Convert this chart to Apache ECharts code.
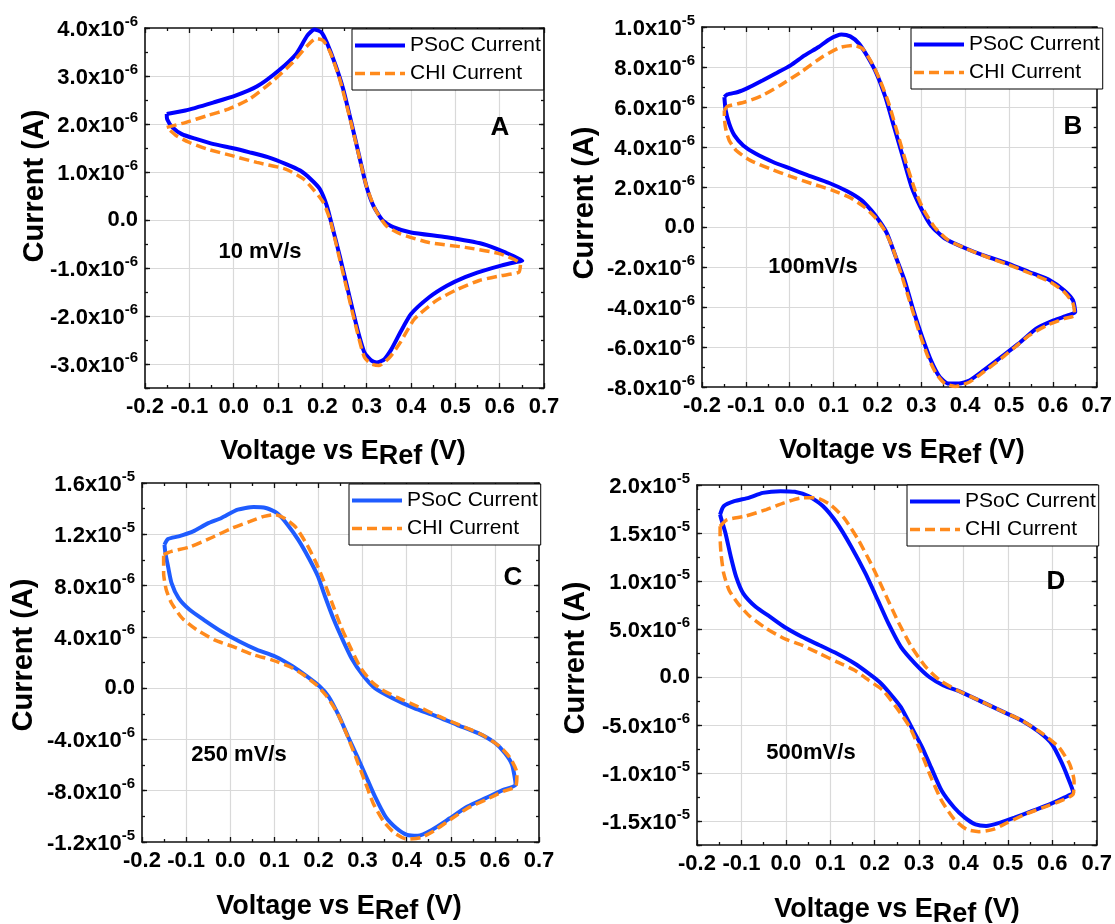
<!DOCTYPE html>
<html><head><meta charset="utf-8">
<script src="https://cdn.jsdelivr.net/npm/echarts@6/dist/echarts.min.js"></script>
<style>html,body{margin:0;padding:0;background:#fff}#c{width:1115px;height:924px}</style>
</head><body><div id="c"></div>
<script>
// ---- DATA (voltage in V, current in microamps: 1 = 1x10^-6 A) ----
const panelLetters = ['A', 'B', 'C', 'D'];
const scanRates = ['10 mV/s', '100mV/s', '250 mV/s', '500mV/s'];
const seriesNames = ['PSoC Current', 'CHI Current'];
const xRange = [-0.2, 0.7];
const yRangesA = [-3.5, 4, 1, 0.5];      // min, max, labelled step, minor step
const yRangesB = [-8, 10, 2, 1];
const yRangesC = [-12, 16, 4, 2];
const yRangesD = [-17.5, 20, 5, 2.5];

const psocA = [[-0.151,2.21],[-0.109,2.28],[-0.045,2.45],[0.004,2.59],[0.052,2.78],[0.101,3.11],[0.141,3.46],[0.166,3.84],[0.182,3.97],[0.198,3.91],[0.210,3.70],[0.230,3.22],[0.247,2.73],[0.267,1.97],[0.283,1.34],[0.299,0.72],[0.315,0.30],[0.336,-0.01],[0.360,-0.15],[0.400,-0.26],[0.481,-0.36],[0.562,-0.50],[0.611,-0.67],[0.651,-0.85],[0.635,-0.88],[0.603,-0.95],[0.562,-1.06],[0.522,-1.19],[0.481,-1.37],[0.441,-1.61],[0.400,-1.96],[0.376,-2.34],[0.356,-2.69],[0.340,-2.90],[0.323,-2.97],[0.311,-2.93],[0.295,-2.76],[0.279,-2.27],[0.259,-1.51],[0.239,-0.74],[0.222,-0.12],[0.210,0.30],[0.194,0.65],[0.174,0.85],[0.150,1.03],[0.117,1.17],[0.077,1.31],[0.036,1.41],[-0.004,1.50],[-0.045,1.58],[-0.085,1.69],[-0.117,1.79],[-0.138,1.93],[-0.150,2.10],[-0.151,2.21]];
const chiA = [[-0.151,1.93],[-0.109,2.03],[-0.061,2.17],[-0.012,2.31],[0.036,2.52],[0.085,2.87],[0.133,3.28],[0.166,3.63],[0.186,3.78],[0.202,3.74],[0.218,3.49],[0.239,2.94],[0.259,2.24],[0.279,1.48],[0.299,0.72],[0.319,0.23],[0.344,-0.12],[0.376,-0.29],[0.441,-0.47],[0.522,-0.57],[0.603,-0.71],[0.647,-0.92],[0.643,-1.09],[0.603,-1.16],[0.554,-1.26],[0.506,-1.44],[0.457,-1.68],[0.408,-2.06],[0.376,-2.55],[0.352,-2.86],[0.328,-3.03],[0.311,-3.00],[0.295,-2.86],[0.279,-2.34],[0.259,-1.58],[0.239,-0.81],[0.218,-0.01],[0.202,0.37],[0.182,0.61],[0.158,0.85],[0.117,1.06],[0.052,1.20],[-0.004,1.34],[-0.061,1.48],[-0.101,1.62],[-0.130,1.76],[-0.151,1.93]];

const psocB = [[-0.149,6.50],[-0.142,6.63],[-0.118,6.75],[-0.094,6.97],[-0.062,7.33],[-0.030,7.70],[0.002,8.08],[0.034,8.58],[0.066,9.00],[0.090,9.38],[0.118,9.62],[0.138,9.53],[0.158,9.17],[0.178,8.50],[0.198,7.67],[0.218,6.50],[0.238,5.00],[0.258,3.50],[0.278,2.00],[0.298,1.00],[0.322,0.08],[0.354,-0.58],[0.394,-1.00],[0.442,-1.42],[0.498,-1.83],[0.546,-2.25],[0.594,-2.67],[0.626,-3.17],[0.646,-3.67],[0.651,-4.25],[0.634,-4.42],[0.602,-4.67],[0.562,-5.08],[0.522,-5.83],[0.482,-6.50],[0.442,-7.17],[0.410,-7.67],[0.386,-7.83],[0.362,-7.83],[0.342,-7.50],[0.322,-6.67],[0.302,-5.50],[0.282,-4.17],[0.262,-2.67],[0.242,-1.50],[0.222,-0.33],[0.206,0.25],[0.186,0.83],[0.162,1.37],[0.130,1.80],[0.090,2.20],[0.042,2.58],[0.002,2.92],[-0.038,3.25],[-0.078,3.67],[-0.106,4.08],[-0.126,4.58],[-0.138,5.17],[-0.146,5.83],[-0.149,6.50]];
const chiB = [[-0.149,5.83],[-0.142,6.03],[-0.102,6.25],[-0.062,6.58],[-0.022,7.08],[0.026,7.75],[0.074,8.50],[0.114,8.97],[0.146,9.08],[0.166,8.92],[0.186,8.25],[0.206,7.33],[0.226,6.17],[0.246,4.67],[0.266,3.17],[0.286,1.83],[0.306,0.83],[0.330,0.00],[0.362,-0.67],[0.402,-1.08],[0.450,-1.50],[0.498,-1.88],[0.546,-2.30],[0.594,-2.75],[0.626,-3.25],[0.646,-3.83],[0.650,-4.42],[0.626,-4.58],[0.586,-4.92],[0.546,-5.42],[0.514,-6.00],[0.482,-6.58],[0.442,-7.25],[0.410,-7.75],[0.378,-7.97],[0.354,-7.83],[0.334,-7.33],[0.314,-6.42],[0.294,-5.17],[0.274,-3.75],[0.254,-2.33],[0.234,-1.00],[0.214,-0.08],[0.194,0.50],[0.170,1.00],[0.138,1.47],[0.098,1.83],[0.050,2.17],[0.002,2.53],[-0.046,2.92],[-0.090,3.33],[-0.122,3.83],[-0.138,4.33],[-0.146,4.92],[-0.149,5.50],[-0.149,5.83]];

const psocC = [[-0.149,11.19],[-0.141,11.63],[-0.117,11.84],[-0.084,12.23],[-0.052,12.83],[-0.020,13.27],[0.017,13.92],[0.053,14.13],[0.081,14.05],[0.106,13.66],[0.130,12.75],[0.154,11.58],[0.178,10.15],[0.199,8.71],[0.215,7.15],[0.235,5.33],[0.255,3.77],[0.275,2.34],[0.300,1.04],[0.328,0.00],[0.368,-0.78],[0.417,-1.56],[0.465,-2.16],[0.514,-2.86],[0.562,-3.51],[0.599,-4.24],[0.623,-5.07],[0.639,-5.98],[0.647,-7.54],[0.619,-7.93],[0.579,-8.58],[0.538,-9.24],[0.498,-10.15],[0.457,-11.06],[0.425,-11.52],[0.401,-11.45],[0.377,-10.93],[0.352,-10.02],[0.328,-8.45],[0.308,-6.89],[0.288,-5.33],[0.267,-3.77],[0.247,-2.21],[0.223,-0.65],[0.203,0.13],[0.174,0.91],[0.142,1.69],[0.102,2.47],[0.061,2.99],[0.021,3.64],[-0.020,4.42],[-0.060,5.33],[-0.092,6.11],[-0.117,7.02],[-0.133,8.19],[-0.141,9.50],[-0.147,10.54],[-0.149,11.19]];
const chiC = [[-0.151,10.41],[-0.133,10.67],[-0.092,11.00],[-0.044,11.71],[0.005,12.49],[0.045,13.00],[0.077,13.40],[0.102,13.53],[0.126,13.19],[0.150,12.49],[0.174,11.19],[0.195,9.76],[0.211,8.45],[0.231,6.63],[0.251,4.81],[0.275,2.99],[0.296,1.56],[0.320,0.52],[0.344,-0.13],[0.377,-0.70],[0.425,-1.43],[0.474,-2.21],[0.522,-2.91],[0.571,-3.64],[0.611,-4.55],[0.635,-5.46],[0.650,-6.63],[0.647,-7.67],[0.619,-8.06],[0.579,-8.71],[0.538,-9.37],[0.498,-10.28],[0.465,-11.06],[0.433,-11.65],[0.401,-11.78],[0.373,-11.32],[0.348,-10.41],[0.324,-8.97],[0.304,-7.15],[0.284,-5.33],[0.263,-3.51],[0.243,-1.95],[0.219,-0.65],[0.195,0.26],[0.166,1.04],[0.134,1.69],[0.094,2.21],[0.053,2.60],[0.005,3.25],[-0.036,3.77],[-0.076,4.55],[-0.109,5.46],[-0.133,6.63],[-0.145,7.67],[-0.151,8.97],[-0.151,10.02],[-0.151,10.41]];

const psocD = [[-0.148,16.92],[-0.140,17.79],[-0.116,18.31],[-0.084,18.66],[-0.052,19.18],[-0.012,19.36],[0.020,19.29],[0.052,18.83],[0.084,17.79],[0.115,16.04],[0.147,13.60],[0.179,10.81],[0.207,8.02],[0.231,5.58],[0.259,3.14],[0.291,1.40],[0.323,0.00],[0.355,-0.87],[0.395,-1.57],[0.443,-2.62],[0.491,-3.66],[0.531,-4.53],[0.571,-5.76],[0.599,-6.98],[0.619,-8.72],[0.635,-10.46],[0.647,-12.03],[0.627,-12.56],[0.595,-13.25],[0.555,-13.95],[0.515,-14.65],[0.483,-15.17],[0.451,-15.52],[0.427,-15.35],[0.403,-14.65],[0.379,-13.60],[0.351,-11.86],[0.327,-9.42],[0.307,-7.32],[0.283,-5.23],[0.259,-3.14],[0.235,-1.74],[0.211,-0.52],[0.187,0.35],[0.155,1.40],[0.115,2.44],[0.076,3.31],[0.036,4.19],[-0.004,5.23],[-0.036,6.28],[-0.068,7.32],[-0.096,8.72],[-0.112,10.46],[-0.124,12.56],[-0.136,15.00],[-0.146,16.57],[-0.148,16.92]];
const chiD = [[-0.148,15.70],[-0.132,16.39],[-0.092,16.74],[-0.044,17.44],[-0.004,18.14],[0.036,18.66],[0.068,18.66],[0.100,17.96],[0.131,16.57],[0.163,14.30],[0.195,11.51],[0.223,8.72],[0.251,5.93],[0.283,3.14],[0.315,1.05],[0.347,-0.35],[0.387,-1.40],[0.435,-2.44],[0.483,-3.49],[0.531,-4.53],[0.579,-5.93],[0.615,-7.32],[0.639,-9.07],[0.649,-10.81],[0.647,-12.21],[0.619,-12.91],[0.579,-13.60],[0.539,-14.30],[0.499,-15.17],[0.467,-15.87],[0.435,-16.11],[0.407,-15.87],[0.379,-14.82],[0.351,-12.91],[0.327,-10.46],[0.303,-7.67],[0.279,-5.23],[0.251,-3.31],[0.219,-1.40],[0.187,-0.35],[0.155,0.70],[0.115,1.57],[0.076,2.44],[0.036,3.31],[-0.004,4.01],[-0.044,5.06],[-0.080,6.28],[-0.108,7.67],[-0.128,9.07],[-0.140,10.81],[-0.146,12.91],[-0.148,14.65],[-0.148,15.70]];

// ---- LAYOUT / STYLE ----
const FONT = "'Liberation Sans', Arial, Helvetica, sans-serif";
const ORANGE = '#ff8a1c';
const panels = [
  { psoc: psocA, chi: chiA, yr: yRangesA, blue: '#0000ff',
    grid: {left: 145, top: 28, width: 399, height: 360}, legend: {left: 352, top: 29},
    letter: [500, 128], rate: [260, 252], ytitle: [35, 186], xtitle: [343, 452] },
  { psoc: psocB, chi: chiB, yr: yRangesB, blue: '#0000ff',
    grid: {left: 702, top: 27, width: 402, height: 360}, legend: {left: 911, top: 28},
    letter: [1073, 127], rate: [813, 267], ytitle: [585, 203], xtitle: [902, 451] },
  { psoc: psocC, chi: chiC, yr: yRangesC, blue: '#1f5cff',
    grid: {left: 142, top: 483, width: 397, height: 359}, legend: {left: 349, top: 484},
    letter: [513, 578], rate: [239, 755], ytitle: [24, 655], xtitle: [339, 907] },
  { psoc: psocD, chi: chiD, yr: yRangesD, blue: '#0010ff',
    grid: {left: 697, top: 485, width: 402, height: 360}, legend: {left: 907, top: 485},
    letter: [1056, 582], rate: [811, 753], ytitle: [576, 658], xtitle: [897, 910] }
];

function yFmt(major) {
  return function (v) {
    const k = v / major;
    if (Math.abs(k - Math.round(k)) > 1e-6) return '';
    if (Math.abs(v) < 1e-9) return '{z|0.0}';
    const e = Math.floor(Math.log10(Math.abs(v)) + 1e-9);
    const mant = (v / Math.pow(10, e)).toFixed(1);
    return '{m|' + mant + 'x10}{e|' + (e - 6) + '}';
  };
}
const AXIS_LINE = {show: true, onZero: false, lineStyle: {color: '#111', width: 1.6}};
const GRID_LINE = {show: true, showMinLine: false, showMaxLine: false, lineStyle: {color: '#d9d9d9', width: 1.2}};
const TICK = {color: '#111', width: 1.3};

const option = {animation: false, backgroundColor: '#fff', grid: [], xAxis: [], yAxis: [], series: [], legend: [], graphic: []};

panels.forEach(function (p, g) {
  const key = panelLetters[g];
  const [ymin, ymax, major, minor] = p.yr;
  option.grid.push(Object.assign({containLabel: false}, p.grid));
  option.xAxis.push({type: 'value', gridIndex: g, position: 'bottom', min: xRange[0], max: xRange[1], interval: 0.1,
    axisLine: AXIS_LINE, axisTick: {show: true, inside: true, length: 5, lineStyle: TICK},
    minorTick: {show: true, splitNumber: 2, length: 3, lineStyle: TICK},
    splitLine: GRID_LINE,
    axisLabel: {show: true, margin: 8, formatter: v => v.toFixed(1), fontFamily: FONT, fontWeight: 'bold', fontSize: 22, color: '#000'}});
  option.xAxis.push({type: 'value', gridIndex: g, position: 'top', min: xRange[0], max: xRange[1], interval: 0.1,
    axisLine: AXIS_LINE, axisTick: {show: true, inside: true, length: 5, lineStyle: TICK},
    minorTick: {show: true, splitNumber: 2, length: 3, lineStyle: TICK},
    splitLine: {show: false}, axisLabel: {show: false}});
  option.yAxis.push({type: 'value', gridIndex: g, position: 'left', min: ymin, max: ymax, interval: minor,
    axisLine: AXIS_LINE, axisTick: {show: true, inside: true, length: 3, lineStyle: TICK},
    splitLine: {show: false},
    axisLabel: {show: true, margin: 7, formatter: yFmt(major), fontFamily: FONT, color: '#000',
      rich: {m: {fontFamily: FONT, fontWeight: 'bold', fontSize: 22, color: '#000', padding: [4, 0, 0, 0]},
             z: {fontFamily: FONT, fontWeight: 'bold', fontSize: 22, color: '#000'},
             e: {fontFamily: FONT, fontWeight: 'bold', fontSize: 15, color: '#000', padding: [0, 0, 13, 0]}}}});
  option.yAxis.push({type: 'value', gridIndex: g, position: 'left', min: ymin, max: ymax, minInterval: major, maxInterval: major, splitNumber: Math.round((ymax - ymin) / major),
    axisLine: {show: false, onZero: false}, axisTick: {show: true, inside: true, length: 5, lineStyle: TICK},
    splitLine: GRID_LINE, axisLabel: {show: false}});
  option.yAxis.push({type: 'value', gridIndex: g, position: 'right', min: ymin, max: ymax, interval: minor,
    axisLine: AXIS_LINE, axisTick: {show: true, inside: true, length: 3, lineStyle: TICK},
    splitLine: {show: false}, axisLabel: {show: false}});
  option.yAxis.push({type: 'value', gridIndex: g, position: 'right', min: ymin, max: ymax, minInterval: major, maxInterval: major, splitNumber: Math.round((ymax - ymin) / major),
    axisLine: {show: false, onZero: false}, axisTick: {show: true, inside: true, length: 5, lineStyle: TICK},
    splitLine: {show: false}, axisLabel: {show: false}});

  option.series.push({type: 'line', name: key + ':' + seriesNames[0], xAxisIndex: 2 * g, yAxisIndex: 4 * g,
    data: p.psoc, symbol: 'none', smooth: 0.2, z: 3,
    lineStyle: {color: p.blue, width: 4}, itemStyle: {color: p.blue}});
  option.series.push({type: 'line', name: key + ':' + seriesNames[1], xAxisIndex: 2 * g, yAxisIndex: 4 * g,
    data: p.chi, symbol: 'none', smooth: 0.2, z: 4,
    lineStyle: {color: ORANGE, width: 3.5, type: [10, 5]}, itemStyle: {color: ORANGE}});

  option.legend.push({left: p.legend.left, top: p.legend.top, orient: 'vertical',
    data: [key + ':' + seriesNames[0], key + ':' + seriesNames[1]],
    formatter: n => n.split(':')[1], selectedMode: false,
    itemWidth: 50, itemHeight: 20, itemGap: 7, padding: [6, 3, 6, 1],
    borderColor: '#000', borderWidth: 1, backgroundColor: '#fff', z: 10,
    itemStyle: {opacity: 0}, lineStyle: {width: 'inherit', type: 'inherit'},
    textStyle: {fontFamily: FONT, fontSize: 21, color: '#000'}});

  option.graphic.push({type: 'text', x: p.letter[0], y: p.letter[1], z: 20,
    style: {text: key, fontFamily: FONT, fontWeight: 'bold', fontSize: 26, fill: '#000', align: 'center', verticalAlign: 'middle'}});
  option.graphic.push({type: 'text', x: p.rate[0], y: p.rate[1], z: 20,
    style: {text: scanRates[g], fontFamily: FONT, fontWeight: 'bold', fontSize: 22, fill: '#000', align: 'center', verticalAlign: 'middle'}});
  option.graphic.push({type: 'text', x: p.ytitle[0], y: p.ytitle[1], rotation: Math.PI / 2, z: 20,
    style: {text: 'Current (A)', fontFamily: FONT, fontWeight: 'bold', fontSize: 29, fill: '#000', align: 'center', verticalAlign: 'middle'}});
  option.graphic.push({type: 'text', x: p.xtitle[0], y: p.xtitle[1], z: 20,
    style: {text: '{t|Voltage vs E}{s|Ref}{t| (V)}', align: 'center', verticalAlign: 'middle',
      rich: {t: {fontFamily: FONT, fontWeight: 'bold', fontSize: 27, fill: '#000'},
             s: {fontFamily: FONT, fontWeight: 'bold', fontSize: 27, fill: '#000', padding: [9, 0, 0, 0]}}}});
});

const chart = echarts.init(document.getElementById('c'), null, {renderer: 'canvas'});
chart.setOption(option);
</script>
</body></html>
